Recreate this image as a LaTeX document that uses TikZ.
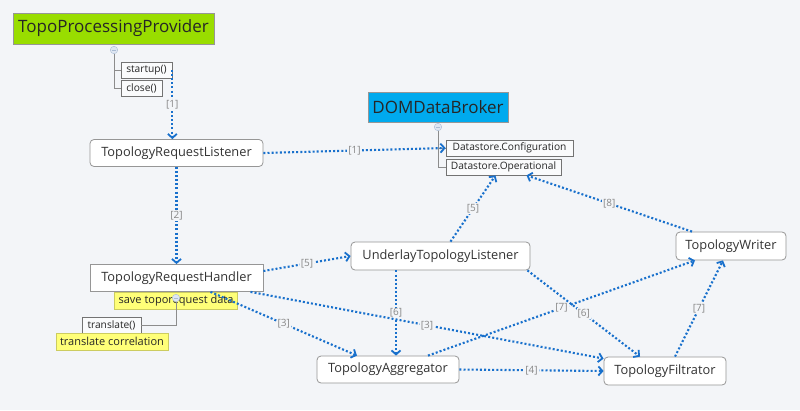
\documentclass[tikz,border=0pt]{standalone}
\usepackage{fontspec}
\setmainfont{Open Sans}
\usetikzlibrary{arrows.meta,calc}
\definecolor{bgc}{RGB}{243,245,248}
\definecolor{lime}{RGB}{153,221,0}
\definecolor{skyb}{RGB}{0,170,238}
\definecolor{linkb}{RGB}{24,112,204}
\definecolor{lblgray}{RGB}{135,135,135}
\definecolor{boxline}{RGB}{150,150,150}
\definecolor{yel}{RGB}{255,255,120}
\definecolor{minfill}{RGB}{222,230,242}
\definecolor{minline}{RGB}{170,188,212}
\tikzset{
  mainbox/.style={draw=boxline, fill=white, rounded corners=4pt, line width=0.8pt,
    minimum height=27pt, inner sep=0pt, font=\fontsize{12.8}{14}\selectfont, text=black!80},
  sqbox/.style={mainbox, rounded corners=0pt},
  topic/.style={draw=boxline, inner sep=0pt, line width=0.8pt, font=\fontsize{17}{19}\selectfont, text=black!85},
  smallbox/.style={draw=black!55, fill=white!60!bgc, inner sep=0pt, line width=0.7pt,
    minimum height=16pt, font=\fontsize{10.2}{12}\selectfont, text=black!85},
  yelbox/.style={fill=yel, draw=yel!80!black, inner sep=0pt, line width=0.5pt,
    minimum height=17pt, font=\fontsize{11}{13}\selectfont, text=black!85},
  tree/.style={draw=black!45, line width=0.7pt},
  minus/.style={circle, draw=minline, fill=minfill, inner sep=0pt, minimum size=7.5pt,
    path picture={\draw[minline, line width=0.8pt] ([xshift=-2pt]path picture bounding box.center) -- ([xshift=2pt]path picture bounding box.center);}},
  conn/.style={draw=linkb, line width=2.1pt, dash pattern=on 2pt off 2.1pt,
    -{Straight Barb[length=4pt,width=9pt,line width=1.8pt]}},
  lbl/.style={fill=bgc, inner sep=1pt, text=lblgray, font=\fontsize{10}{12}\selectfont}
}
\begin{document}
\begin{tikzpicture}[x=1pt,y=-1pt]
\fill[bgc] (0,0) rectangle (800,410);
\useasboundingbox (0,0) rectangle (800,410);

% topics
\node[topic, fill=lime, minimum width=201pt, minimum height=31pt] (tpp) at (113.5,28.5) {TopoProcessingProvider};
\node[topic, fill=skyb, minimum width=140pt, minimum height=30pt] (ddb) at (438,107) {DOMDataBroker};

% TPP subtree
\node[smallbox, minimum width=51pt] (startup) at (146.5,70) {startup()};
\node[smallbox, minimum width=41pt] (close) at (141.5,88) {close()};
\node[minus] (tppm) at (114,50) {};
\draw[tree] (tppm.south) -- (tppm.south |- close.west) -- (close.west);
\draw[tree] (tppm.south |- startup.west) -- (startup.west);

% DDB subtree
\node[smallbox, minimum width=127pt] (dsc) at (509.5,148) {Datastore.Configuration};
\node[smallbox, minimum width=115pt] (dso) at (503.5,167) {Datastore.Operational};
\node[minus] (ddbm) at (438,127) {};
\draw[tree] (ddbm.south) -- (ddbm.south |- dso.west) -- (dso.west);
\draw[tree] (ddbm.south |- dsc.west) -- (dsc.west);

% main nodes
\node[mainbox, minimum width=173pt] (trl) at (176.5,153) {TopologyRequestListener};
\node[sqbox, minimum width=173pt] (trh) at (176.5,278) {TopologyRequestHandler};
\node[mainbox, minimum width=179pt, minimum height=28pt] (utl) at (440.5,256) {UnderlayTopologyListener};
\node[mainbox, minimum width=110pt, minimum height=28pt] (tw) at (731,246) {TopologyWriter};
\node[mainbox, minimum width=142pt] (ta) at (388,369.5) {TopologyAggregator};
\node[mainbox, minimum width=122pt, minimum height=28pt] (tf) at (665,371) {TopologyFiltrator};

% TRH notes and subtree
\node[yelbox, minimum width=123pt] (save) at (176,300.5) {save toporequest data};
\node[smallbox, minimum width=59pt] (transl) at (111.5,325) {translate()};
\node[yelbox, minimum width=112pt] (corr) at (112,341.5) {translate correlation};
\node[minus] (trhm) at (176,298) {};
\draw[tree] (trhm.south) -- (trhm.south |- transl.east) -- (transl.east);

% connectors
\draw[conn] (startup.east) -- node[lbl] {[1]} (startup.east |- trl.north);
\draw[conn] (trl.east) -- node[lbl] {[1]} (dsc.west);
\draw[conn] (trl.south) -- node[lbl] {[2]} (trh.north);
\draw[conn] ([yshift=7pt]trh.east) -- node[lbl] {[5]} (utl.west);
\draw[conn] ([xshift=10pt]utl.north) -- node[lbl] {[5]} ([xshift=-8pt]dso.south);
\draw[conn] ([xshift=-39pt]tw.north) -- node[lbl] {[8]} ([xshift=23pt]dso.south);
\draw[conn] ([xshift=-44.5pt]utl.south) -- node[lbl] {[6]} ([xshift=-44.5pt]utl.south |- ta.north);
\draw[conn] ([xshift=-3pt]utl.south east) -- node[lbl] {[6]} ([xshift=-25pt]tf.north);
\draw[conn] ([xshift=34pt]trh.south) -- node[lbl] {[3]} ([xshift=-31pt]ta.north);
\draw[conn] ([xshift=74pt]trh.south) -- node[lbl] {[3]} ([yshift=-2pt]tf.north west);
\draw[conn] (ta.east) -- node[lbl] {[4]} (tf.west);
\draw[conn] ([xshift=40pt]ta.north) -- node[lbl] {[7]} ([xshift=-36pt]tw.south);
\draw[conn] ([xshift=10pt]tf.north) -- node[lbl] {[7]} ([xshift=-8pt]tw.south);
\end{tikzpicture}
\end{document}
